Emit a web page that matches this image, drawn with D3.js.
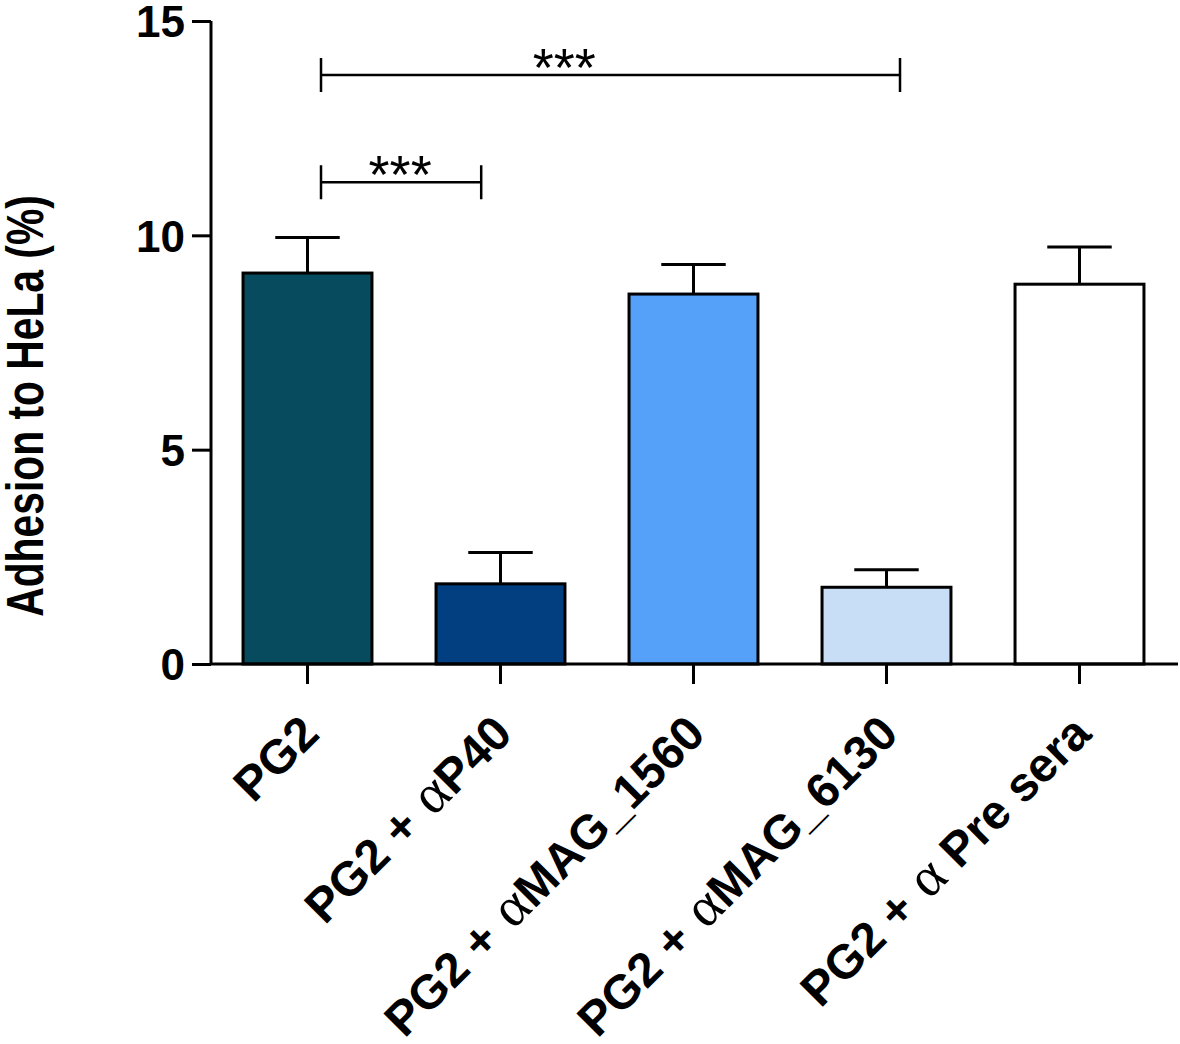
<!DOCTYPE html>
<html>
<head>
<meta charset="utf-8">
<script src="https://cdn.jsdelivr.net/npm/d3@7"></script>
<style>
  html, body { margin: 0; padding: 0; background: #fff; }
  svg { display: block; }
  text { font-family: "Liberation Sans", Arial, sans-serif; font-weight: bold; fill: #000; }
</style>
</head>
<body>
<svg id="chart" width="1180" height="1044"></svg>
<script>
// ---- data ----
const categories = ["PG2", "PG2 + αP40", "PG2 + αMAG_1560", "PG2 + αMAG_6130", "PG2 + α Pre sera"];
const labelParts = [
  [["PG2", false]],
  [["PG2 + ", false], ["α", true], ["P40", false]],
  [["PG2 + ", false], ["α", true], ["MAG_1560", false]],
  [["PG2 + ", false], ["α", true], ["MAG_6130", false]],
  [["PG2 + ", false], ["α", true], [" Pre sera", false]]
];
const means = [9.12, 1.87, 8.63, 1.79, 8.86];
const errors = [0.83, 0.73, 0.69, 0.41, 0.87];
const barColors = ["#074C5E", "#023F80", "#55A1FA", "#C8DDF6", "#FFFFFF"];
const yTicks = [0, 5, 10, 15];
const yLabel = "Adhesion to HeLa (%)";
// significance brackets: from/to/label position in category-index units, height in data units
const brackets = [
  { from: 0.07, to: 0.9, labelAt: 0.48, y: 11.24, label: "***" },
  { from: 0.07, to: 3.07, labelAt: 1.33, y: 13.74, label: "***" }
];

// ---- layout ----
const svg = d3.select("#chart");
const y = d3.scaleLinear().domain([0, 15]).range([664, 21]);
const x = d3.scaleBand().domain(categories).range([211, 1176]).paddingInner(0.332).paddingOuter(0.166);
const xi = d3.scaleLinear().domain([0, 1]).range([x(categories[0]) + x.bandwidth() / 2, x(categories[1]) + x.bandwidth() / 2]);

// bars
svg.append("g").selectAll("rect").data(means).join("rect")
  .attr("x", (d, i) => x(categories[i]))
  .attr("y", d => y(d))
  .attr("width", x.bandwidth())
  .attr("height", d => y(0) - y(d))
  .attr("fill", (d, i) => barColors[i])
  .attr("stroke", "#000")
  .attr("stroke-width", 3);

// error bars
const eb = svg.append("g").attr("stroke", "#000").attr("stroke-width", 3);
means.forEach((m, i) => {
  const cx = x(categories[i]) + x.bandwidth() / 2;
  eb.append("line").attr("x1", cx).attr("x2", cx).attr("y1", y(m)).attr("y2", y(m + errors[i]));
  eb.append("line").attr("x1", cx - x.bandwidth() / 4).attr("x2", cx + x.bandwidth() / 4)
    .attr("y1", y(m + errors[i])).attr("y2", y(m + errors[i]));
});

// y axis
const yAxis = d3.axisLeft(y).tickValues(yTicks).tickSize(19).tickPadding(7).tickFormat(d3.format("d"));
const gy = svg.append("g").attr("transform", "translate(211,0)").call(yAxis);
gy.select(".domain").attr("stroke", "#000").attr("stroke-width", 3).attr("d", `M0,${y(0)}V${y(15)}`);
gy.selectAll(".tick line").attr("stroke", "#000").attr("stroke-width", 3);
gy.selectAll(".tick text").style("font-size", "44px").style("font-family", "Liberation Sans, Arial, sans-serif").style("font-weight", "bold").attr("dy", "0.36em");

// x axis
const xAxis = d3.axisBottom(x).tickSize(20).tickFormat("");
const gx = svg.append("g").attr("transform", `translate(0,${y(0)})`).call(xAxis);
gx.select(".domain").attr("stroke", "#000").attr("stroke-width", 3).attr("d", "M211,0H1178");
gx.selectAll(".tick line").attr("stroke", "#000").attr("stroke-width", 3);

// x labels
const xl = svg.append("g");
categories.forEach((c, i) => {
  const cx = x(c) + x.bandwidth() / 2;
  const t = xl.append("text")
    .attr("transform", `translate(${cx + 14},736) rotate(-45)`)
    .attr("text-anchor", "end")
    .style("font-size", "48px");
  labelParts[i].forEach(([s, greek]) => {
    const ts = t.append("tspan").text(s);
    if (greek) ts.style("font-family", "Liberation Serif, Times New Roman, serif").style("font-weight", "normal").style("font-size", "56px").attr("dx", 3);
  });
});

// y label
svg.append("text")
  .attr("transform", "translate(43,406) rotate(-90) scale(0.8,1)")
  .attr("text-anchor", "middle")
  .style("font-size", "51px")
  .text(yLabel);

// brackets
const bg = svg.append("g");
brackets.forEach(b => {
  const x1 = xi(b.from), x2 = xi(b.to), yy = y(b.y);
  bg.append("path")
    .attr("d", `M${x1},${yy - 17}V${yy + 17}M${x1},${yy}H${x2}M${x2},${yy - 17}V${yy + 17}`)
    .attr("fill", "none").attr("stroke", "#000").attr("stroke-width", 2.5);
  bg.append("text")
    .attr("x", xi(b.labelAt)).attr("y", yy + 11)
    .attr("text-anchor", "middle")
    .style("font-size", "54px").style("font-weight", "normal")
    .text(b.label);
});
</script>
</body>
</html>
